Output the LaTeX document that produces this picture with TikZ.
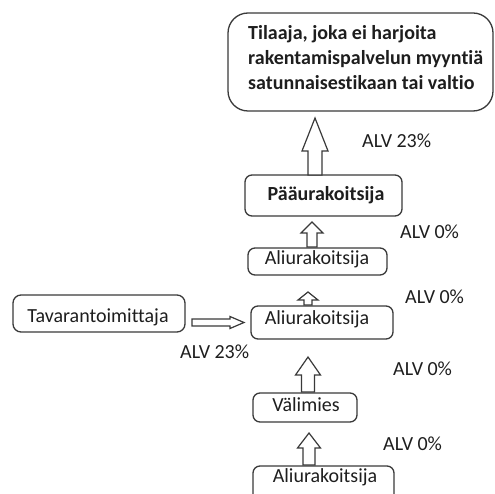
\documentclass[tikz,border=0pt]{standalone}
\usepackage{fontspec}
\setmainfont{Carlito}[Ligatures={NoCommon,NoContextual}]
\usetikzlibrary{calc}
\definecolor{ink}{HTML}{1E1E1E}
\definecolor{edge}{HTML}{3A3A3A}
\tikzset{
  box/.style={draw=edge, line width=1.3pt, rectangle, rounded corners=7pt, inner sep=0pt, fill=white},
  bigbox/.style={box, rounded corners=20pt},
  lbl/.style={text=ink, inner sep=0pt, anchor=base, font=\fontsize{20}{25}\selectfont},
  vat/.style={lbl, anchor=base west},
  blockarrow/.style={draw=edge, line width=1.2pt, fill=white, line join=miter}
}
% hollow block arrow pointing up: tail, tip, half shaft, half head, head length
\newcommand\uparr[5]{%
  \draw[blockarrow] let \p1=(#1), \p2=(#2) in
    (\x1-#3pt,\y1) -- (\x1-#3pt,\y2-#5pt) -- (\x1-#4pt,\y2-#5pt) -- (\x2,\y2)
    -- (\x1+#4pt,\y2-#5pt) -- (\x1+#3pt,\y2-#5pt) -- (\x1+#3pt,\y1) -- cycle;}
% hollow block arrow pointing right
\newcommand\rightarr[5]{%
  \draw[blockarrow] let \p1=(#1), \p2=(#2) in
    (\x1,\y1-#3pt) -- (\x2-#5pt,\y1-#3pt) -- (\x2-#5pt,\y1-#4pt) -- (\x2,\y2)
    -- (\x2-#5pt,\y1+#4pt) -- (\x2-#5pt,\y1+#3pt) -- (\x1,\y1+#3pt) -- cycle;}
\begin{document}
\begin{tikzpicture}[x=1pt, y=-1pt]
\useasboundingbox (0,0) rectangle (494,494);
\clip (0,0) rectangle (494,494);

% boxes
\node[bigbox, minimum width=265pt, minimum height=98pt] (client) at (360.5,62) {};
\node[box, minimum width=157pt, minimum height=41pt] (main) at (323.5,195.5) {};
\node[box, minimum width=139pt, minimum height=27pt] (sub1) at (317.5,261.5) {};
\node[box, minimum width=142pt, minimum height=33pt] (sub2) at (322,322.5) {};
\node[box, minimum width=172pt, minimum height=37pt, rounded corners=8pt] (supplier) at (99,313.5) {};
\node[box, minimum width=104pt, minimum height=29pt] (broker) at (305,407.5) {};
\node[box, minimum width=141pt, minimum height=54pt] (sub3) at (323.5,493) {};

% box texts (the multi-line block is anchored at the baseline of its last line)
\node[lbl, anchor=base west, align=left, font=\fontsize{20}{25}\selectfont\bfseries] (clienttxt) at (248,90)
  {Tilaaja, joka ei harjoita\\rakentamispalvelun myyntiä\\satunnaisestikaan tai valtio};
\node[lbl, font=\fontsize{20}{25}\selectfont\bfseries] (maintxt) at (326,200.5) {Pääurakoitsija};
\node[lbl] (sub1txt) at (317,264.3) {Aliurakoitsija};
\node[lbl] (sub2txt) at (317,324.3) {Aliurakoitsija};
\node[lbl] (suppliertxt) at (98,322.7) {Tavarantoimittaja};
\node[lbl] (brokertxt) at (306,411) {Välimies};
\node[lbl] (sub3txt) at (325,482.7) {Aliurakoitsija};

% arrow end points
\coordinate (a1s) at (315,175);  \coordinate (a1t) at (315,118);
\coordinate (a2s) at (312,247);  \coordinate (a2t) at (312,222);
\coordinate (a3s) at (308,305);  \coordinate (a3t) at (308,292);
\coordinate (a4s) at (308,392);  \coordinate (a4t) at (308,357);
\coordinate (a5s) at (309,465);  \coordinate (a5t) at (309,433);
\coordinate (hs) at (192,322.5); \coordinate (ht) at (244,322.5);

\uparr{a1s}{a1t}{7}{13}{33}
\uparr{a2s}{a2t}{5}{11}{11}
\uparr{a3s}{a3t}{4}{10}{8}
\uparr{a4s}{a4t}{6.5}{12.5}{18}
\uparr{a5s}{a5t}{6}{11.5}{15}
\rightarr{hs}{ht}{3.5}{6}{14}

% VAT labels
\node[vat] (v1) at (362,148) {ALV 23\%};
\node[vat] (v2) at (400,238) {ALV 0\%};
\node[vat] (v3) at (405,303) {ALV 0\%};
\node[vat] (v4) at (180,358) {ALV 23\%};
\node[vat] (v5) at (393,375) {ALV 0\%};
\node[vat] (v6) at (383,450) {ALV 0\%};
\end{tikzpicture}
\end{document}
